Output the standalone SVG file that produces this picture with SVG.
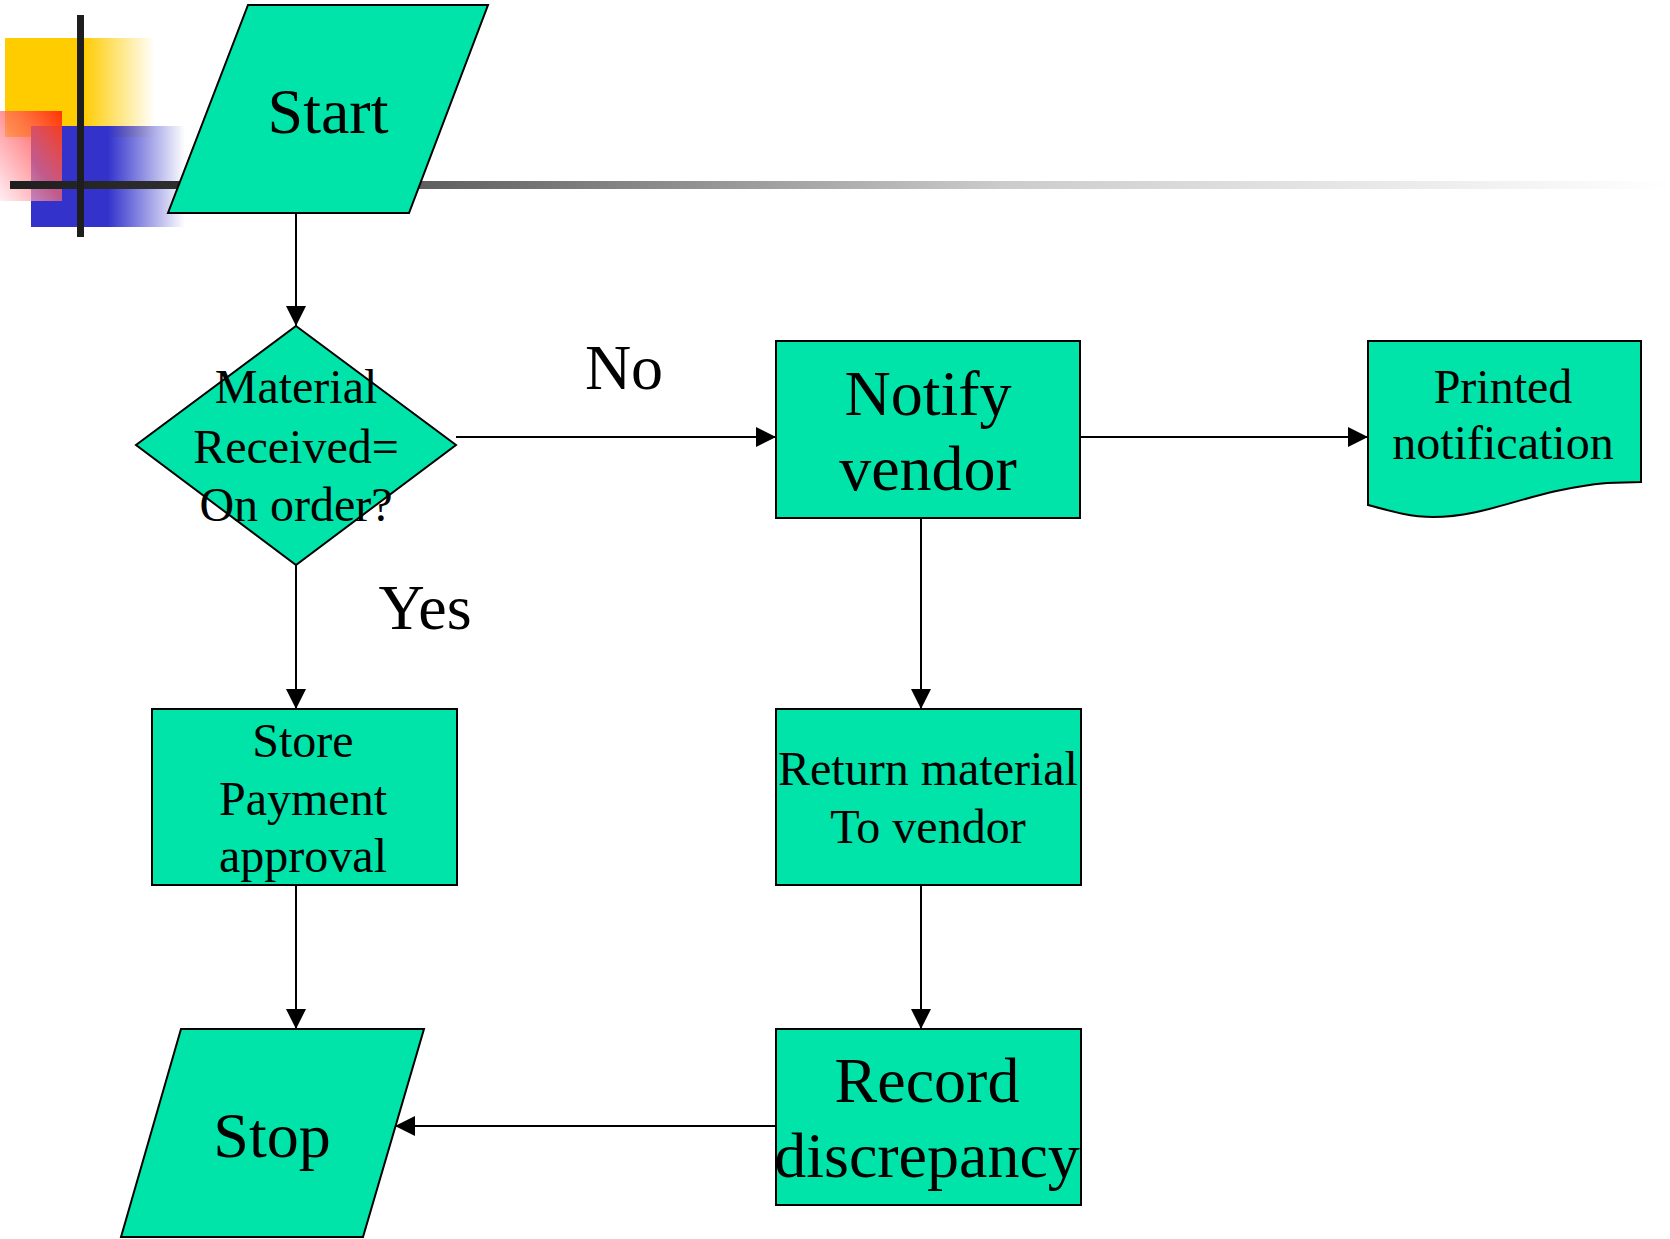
<svg xmlns="http://www.w3.org/2000/svg" width="1670" height="1239" viewBox="0 0 1670 1239">
  <style>
    .shape { fill: #00E3A9; stroke: #000; stroke-width: 2; }
    .lbl { font-family: "Liberation Serif", "Times New Roman", serif; fill: #000; text-anchor: middle; }
    .sm { font-size: 48px; }
    .lg { font-size: 64px; }
    .conn { stroke: #000; stroke-width: 2; fill: none; marker-end: url(#arrow); }
  </style>
  <defs>
    <marker id="arrow" markerUnits="userSpaceOnUse" markerWidth="20" markerHeight="20" refX="20" refY="10" orient="auto">
      <path d="M0,0 L20,10 L0,20 Z" fill="#000"/>
    </marker>
    <linearGradient id="yellowFade" x1="0" y1="0" x2="1" y2="0">
      <stop offset="0" stop-color="#FFCC00"/>
      <stop offset="0.52" stop-color="#FFCC00"/>
      <stop offset="1" stop-color="#FFCC00" stop-opacity="0"/>
    </linearGradient>
    <linearGradient id="blueFade" x1="0" y1="0" x2="1" y2="0">
      <stop offset="0" stop-color="#3333CC"/>
      <stop offset="0.5" stop-color="#3333CC"/>
      <stop offset="1" stop-color="#3333CC" stop-opacity="0"/>
    </linearGradient>
    <linearGradient id="redFade" x1="1" y1="0" x2="0" y2="1">
      <stop offset="0" stop-color="#FF3300"/>
      <stop offset="0.5" stop-color="#FF6A70" stop-opacity="0.7"/>
      <stop offset="1" stop-color="#FFE8F0" stop-opacity="0.7"/>
    </linearGradient>
    <linearGradient id="ruleFade" gradientUnits="userSpaceOnUse" x1="10" y1="0" x2="1670" y2="0">
      <stop offset="0" stop-color="#1E1E1E"/>
      <stop offset="0.1" stop-color="#2E2E2E"/>
      <stop offset="0.23" stop-color="#595959"/>
      <stop offset="0.6" stop-color="#CCCCCC"/>
      <stop offset="1" stop-color="#FFFFFF"/>
    </linearGradient>
  </defs>

  <!-- corner ornament -->
  <g id="ornament">
    <rect x="5" y="38" width="150" height="99" fill="url(#yellowFade)"/>
    <rect x="31" y="126" width="154" height="101" fill="url(#blueFade)"/>
    <rect x="0" y="111" width="62" height="90" fill="url(#redFade)"/>
    <rect x="10" y="181" width="1660" height="8" fill="url(#ruleFade)"/>
    <rect x="77" y="15" width="7" height="222" fill="#1E1E1E"/>
  </g>

  <!-- connectors -->
  <g id="connectors">
    <line class="conn" x1="296" y1="213" x2="296" y2="326"/>
    <line class="conn" x1="456" y1="437" x2="776" y2="437"/>
    <line class="conn" x1="1080" y1="437" x2="1368" y2="437"/>
    <line class="conn" x1="296" y1="565" x2="296" y2="709"/>
    <line class="conn" x1="921" y1="518" x2="921" y2="709"/>
    <line class="conn" x1="296" y1="885" x2="296" y2="1029"/>
    <line class="conn" x1="921" y1="885" x2="921" y2="1029"/>
    <line class="conn" x1="776" y1="1126" x2="395" y2="1126"/>
    <text class="lbl lg" x="624" y="389">No</text>
    <text class="lbl lg" x="425" y="629">Yes</text>
  </g>

  <g id="start">
    <polygon class="shape" points="248,5 488,5 409,213 168,213"/>
    <text class="lbl lg" x="328" y="133">Start</text>
  </g>

  <g id="decision">
    <polygon class="shape" points="296,326 456,445 296,565 136,445"/>
    <text class="lbl sm" x="296" y="403">Material</text>
    <text class="lbl sm" x="296" y="463">Received=</text>
    <text class="lbl sm" x="296" y="521">On order?</text>
  </g>

  <g id="notify">
    <rect class="shape" x="776" y="341" width="304" height="177"/>
    <text class="lbl lg" x="928" y="415">Notify</text>
    <text class="lbl lg" x="928" y="490">vendor</text>
  </g>

  <g id="printed">
    <path class="shape" d="M1368,341 L1641,341 L1641,482 L1607,483 C1530,490 1490,517 1433,517 C1410,517 1390,511 1368,505 Z"/>
    <text class="lbl sm" x="1503" y="403">Printed</text>
    <text class="lbl sm" x="1503" y="459">notification</text>
  </g>

  <g id="store">
    <rect class="shape" x="152" y="709" width="305" height="176"/>
    <text class="lbl sm" x="303" y="757">Store</text>
    <text class="lbl sm" x="303" y="815">Payment</text>
    <text class="lbl sm" x="303" y="872">approval</text>
  </g>

  <g id="return">
    <rect class="shape" x="776" y="709" width="305" height="176"/>
    <text class="lbl sm" x="928" y="785">Return material</text>
    <text class="lbl sm" x="928" y="843">To vendor</text>
  </g>

  <g id="record">
    <rect class="shape" x="776" y="1029" width="305" height="176"/>
    <text class="lbl lg" x="927" y="1102">Record</text>
    <text class="lbl lg" x="927" y="1177">discrepancy</text>
  </g>

  <g id="stop">
    <polygon class="shape" points="181,1029 424,1029 363,1237 121,1237"/>
    <text class="lbl lg" x="272" y="1157">Stop</text>
  </g>
</svg>
